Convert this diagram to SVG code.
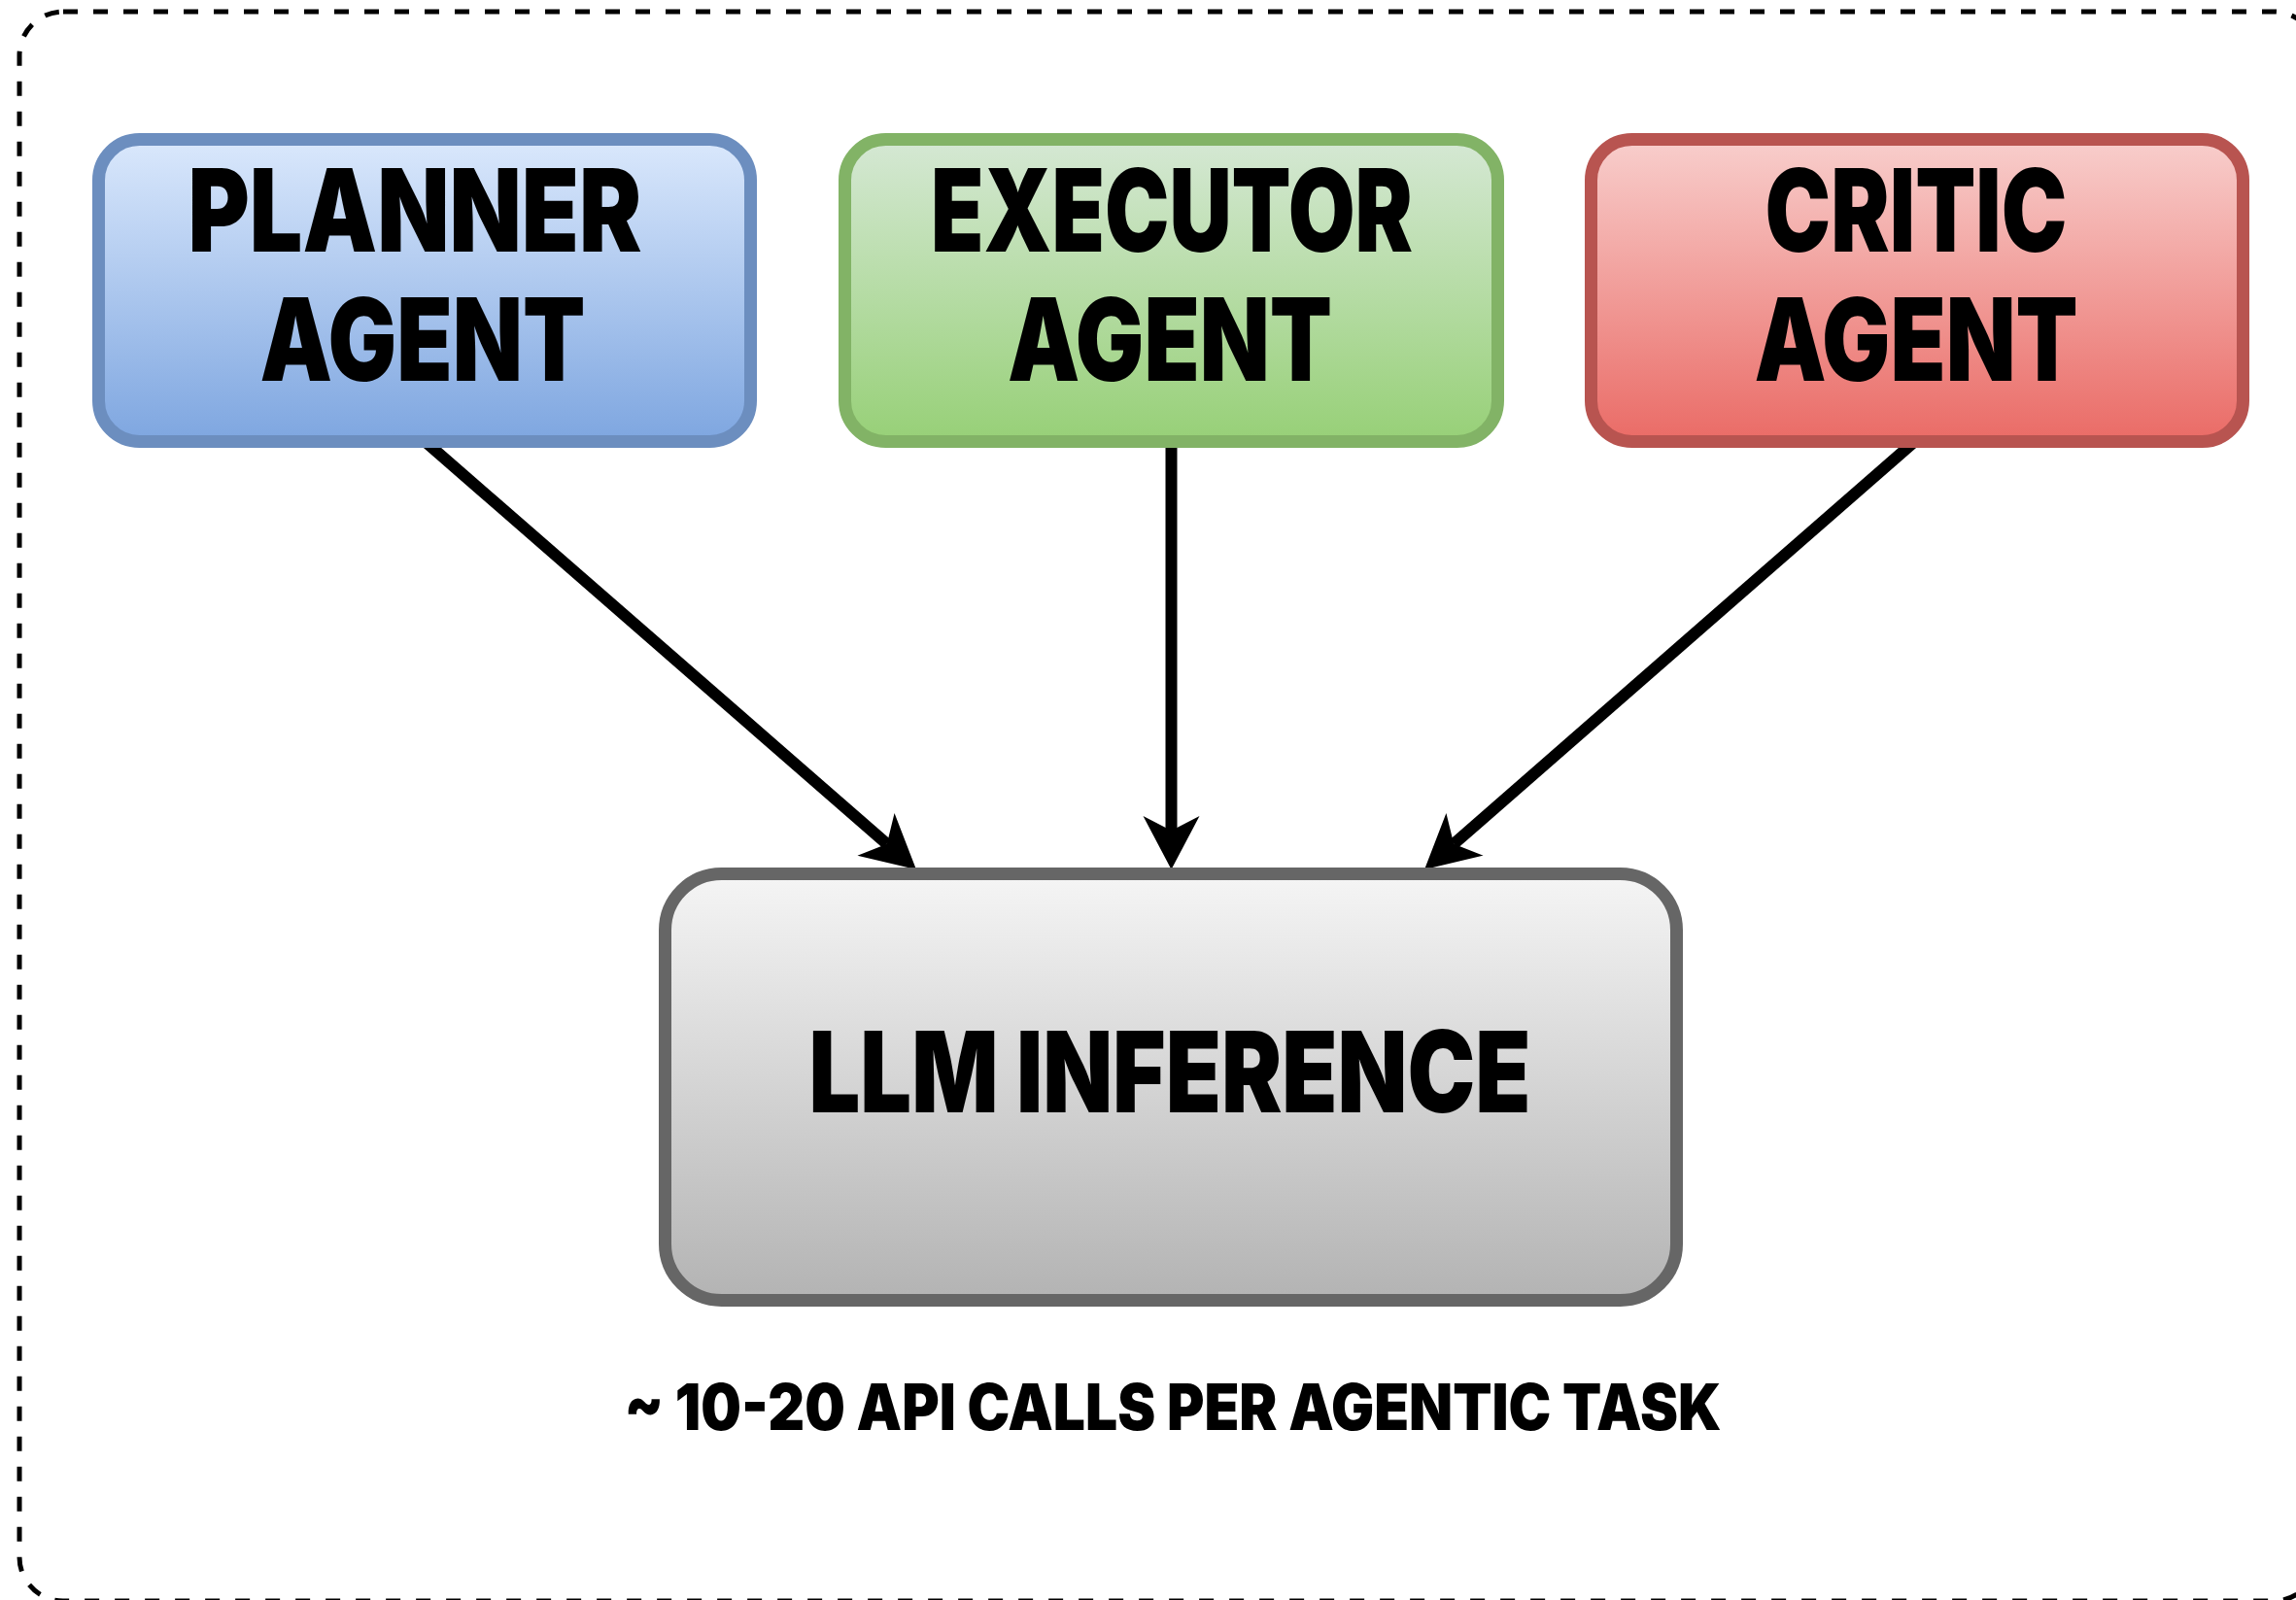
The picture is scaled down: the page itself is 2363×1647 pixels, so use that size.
<svg xmlns="http://www.w3.org/2000/svg" width="2363" height="1647" viewBox="0 0 2363 1647">
  <style>
    .box { stroke-width: 13; }
    .lbl { font-family: Inter, "Noto Sans", "DejaVu Sans", sans-serif; font-weight: 900; fill: #000; text-anchor: middle; }
    .edge { stroke: #000; stroke-width: 12; fill: none; marker-end: url(#head); }
  </style>
  <defs>
    <linearGradient id="gBlue" x1="0" y1="0" x2="0" y2="1">
      <stop offset="0" stop-color="#dae8fc"/>
      <stop offset="1" stop-color="#7ea6e0"/>
    </linearGradient>
    <linearGradient id="gGreen" x1="0" y1="0" x2="0" y2="1">
      <stop offset="0" stop-color="#d5e8d4"/>
      <stop offset="1" stop-color="#97d077"/>
    </linearGradient>
    <linearGradient id="gRed" x1="0" y1="0" x2="0" y2="1">
      <stop offset="0" stop-color="#f8cecc"/>
      <stop offset="1" stop-color="#ea6b66"/>
    </linearGradient>
    <linearGradient id="gGray" x1="0" y1="0" x2="0" y2="1">
      <stop offset="0" stop-color="#f5f5f5"/>
      <stop offset="1" stop-color="#b3b3b3"/>
    </linearGradient>
    <marker id="head" markerUnits="userSpaceOnUse" viewBox="-20 -32 64 64" refX="0" refY="0" markerWidth="64" markerHeight="64" orient="auto" overflow="visible">
      <path d="M-15,-29 L40,0 L-15,29 L0,0 Z" fill="#000"/>
    </marker>
  </defs>

  <rect width="2363" height="1647" fill="#fff"/>

  <!-- dashed frame -->
  <rect x="20" y="12" width="2365" height="1636" rx="45" ry="45" fill="none" stroke="#000" stroke-width="5" stroke-dasharray="15 16"/>

  <!-- connectors -->
  <g id="connectors">
    <line class="edge" x1="437" y1="454" x2="912.8" y2="868.8"/>
    <line class="edge" x1="1205.5" y1="454" x2="1205.5" y2="855"/>
    <line class="edge" x1="1971" y1="454" x2="1496.2" y2="868.7"/>
  </g>

  <g id="planner">
    <rect class="box" x="101.5" y="143.5" width="671" height="311" rx="42" fill="url(#gBlue)" stroke="#6c8ebf"/>
    <text class="lbl" x="427" y="259" font-size="118" textLength="467" lengthAdjust="spacingAndGlyphs">PLANNER</text>
    <text class="lbl" x="435" y="392" font-size="118" textLength="335" lengthAdjust="spacingAndGlyphs">AGENT</text>
  </g>

  <g id="executor">
    <rect class="box" x="869.5" y="143.5" width="672" height="311" rx="42" fill="url(#gGreen)" stroke="#82b366"/>
    <text class="lbl" x="1206" y="259" font-size="118" textLength="496" lengthAdjust="spacingAndGlyphs">EXECUTOR</text>
    <text class="lbl" x="1204" y="392" font-size="118" textLength="334" lengthAdjust="spacingAndGlyphs">AGENT</text>
  </g>

  <g id="critic">
    <rect class="box" x="1637.5" y="143.5" width="671" height="311" rx="42" fill="url(#gRed)" stroke="#b85450"/>
    <text class="lbl" x="1972" y="259" font-size="118" textLength="311" lengthAdjust="spacingAndGlyphs">CRITIC</text>
    <text class="lbl" x="1972" y="392" font-size="118" textLength="333" lengthAdjust="spacingAndGlyphs">AGENT</text>
  </g>

  <g id="llm">
    <rect class="box" x="684.5" y="899.5" width="1041" height="439" rx="58" fill="url(#gGray)" stroke="#666666"/>
    <text class="lbl" x="1204" y="1145" font-size="116" textLength="743" lengthAdjust="spacingAndGlyphs">LLM INFERENCE</text>
  </g>

  <g id="note">
    <text class="lbl" x="1207" y="1472" font-size="66" textLength="1129" lengthAdjust="spacingAndGlyphs">~ 10-20 API CALLS PER AGENTIC TASK</text>
  </g>
</svg>
